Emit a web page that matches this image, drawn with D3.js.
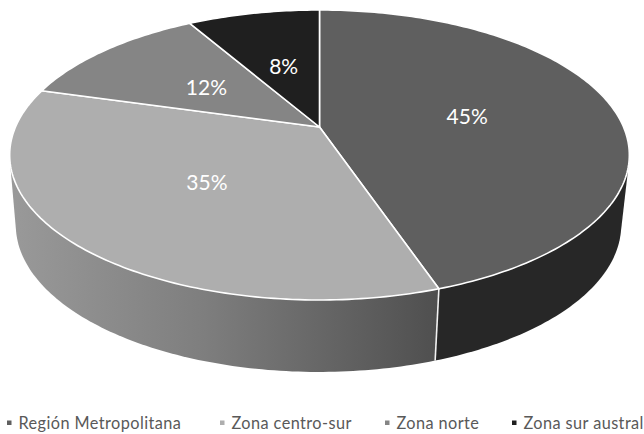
<!DOCTYPE html>
<html lang="es">
<head>
<meta charset="utf-8">
<title>Distribución por zona</title>
<script src="https://cdnjs.cloudflare.com/ajax/libs/d3/7.8.5/d3.min.js"></script>
<style>
  html, body { margin: 0; padding: 0; background: #fff; }
  svg { display: block; }
  text { font-family: Lato, "Open Sans", sans-serif; }
</style>
</head>
<body>
<svg id="chart" width="644" height="434" viewBox="0 0 644 434"></svg>
<script>
const categories = ['Región Metropolitana', 'Zona centro-sur', 'Zona norte', 'Zona sur austral'];
const shares = [44.8, 34.6, 12.3, 8.3];
const faceColors = ['#5f5f5f', '#aeaeae', '#858585', '#1f1f1f'];
const legendX = [7, 220, 385, 512];

const W = 644, H = 434;
const svg = d3.select('#chart');

// perspectiva: la cara superior y la inferior son el mismo círculo proyectado
const TILT = 0.193;
const topRim = { cx: 319.5, cy: 127, rx: 304, ry: 139.6 };
const lowRim = { cx: 318.5, cy: 196.6, rx: 297, ry: 141.5 };

function project(rim, angle, r = 1) {
  const x = r * Math.sin(angle);
  const y = -r * Math.cos(angle);
  const w = 1 - TILT * y;
  return [rim.cx + rim.rx * x / w, rim.cy + rim.ry * y / w];
}

function arcPoints(rim, a0, a1) {
  const n = Math.max(2, Math.ceil((a1 - a0) * 60));
  return d3.range(n + 1).map(i => project(rim, a0 + (a1 - a0) * i / n));
}

const pie = d3.pie().sort(null).startAngle(0).endAngle(2 * Math.PI);
const slices = pie(shares);
const line = d3.line();

const defs = svg.append('defs');
const grad = defs.append('linearGradient')
  .attr('id', 'side-grad')
  .attr('gradientUnits', 'userSpaceOnUse')
  .attr('x1', 13).attr('x2', 438).attr('y1', 0).attr('y2', 0);
grad.append('stop').attr('offset', 0).attr('stop-color', '#999999');
grad.append('stop').attr('offset', 0.45).attr('stop-color', '#7e7e7e');
grad.append('stop').attr('offset', 1).attr('stop-color', '#4f4f4f');

// paredes visibles: solo las dos primeras porciones dan al frente
const sideFills = ['#272727', 'url(#side-grad)'];
sideFills.forEach((fill, i) => {
  const s = slices[i];
  const pts = arcPoints(topRim, s.startAngle, s.endAngle)
    .concat(arcPoints(lowRim, s.startAngle, s.endAngle));
  svg.append('path')
    .attr('d', line(d3.polygonHull(pts)) + 'Z')
    .attr('fill', fill);
});

const sep = slices[0].endAngle;
svg.append('line')
  .attr('x1', project(topRim, sep)[0]).attr('y1', project(topRim, sep)[1])
  .attr('x2', project(lowRim, sep)[0]).attr('y2', project(lowRim, sep)[1])
  .attr('stroke', '#f2f2f2')
  .attr('stroke-width', 1.6);

svg.append('g').selectAll('path')
  .data(slices)
  .enter().append('path')
  .attr('d', d => line([[topRim.cx, topRim.cy]].concat(arcPoints(topRim, d.startAngle, d.endAngle))) + 'Z')
  .attr('fill', (d, i) => faceColors[i])
  .attr('stroke', '#fff')
  .attr('stroke-width', 1.6)
  .attr('stroke-linejoin', 'round');

svg.append('g').selectAll('text')
  .data(slices)
  .enter().append('text')
  .attr('x', d => project(topRim, (d.startAngle + d.endAngle) / 2, 0.5)[0])
  .attr('y', d => project(topRim, (d.startAngle + d.endAngle) / 2, 0.5)[1] + 8.5)
  .attr('text-anchor', 'middle')
  .attr('fill', '#fff')
  .attr('font-size', 21)
  .text(d => d3.format('.0f')(d.value) + '%');

const legend = svg.append('g').selectAll('g')
  .data(categories)
  .enter().append('g')
  .attr('transform', (d, i) => `translate(${legendX[i]},423)`);

legend.append('rect')
  .attr('x', 0).attr('y', -2.5)
  .attr('width', 4.5).attr('height', 4.5)
  .attr('fill', (d, i) => faceColors[i]);

legend.append('text')
  .attr('x', 11.5).attr('y', 6)
  .attr('fill', '#595959')
  .attr('font-size', 16.3)
  .attr('letter-spacing', 0.42)
  .text(d => d);
</script>
</body>
</html>
